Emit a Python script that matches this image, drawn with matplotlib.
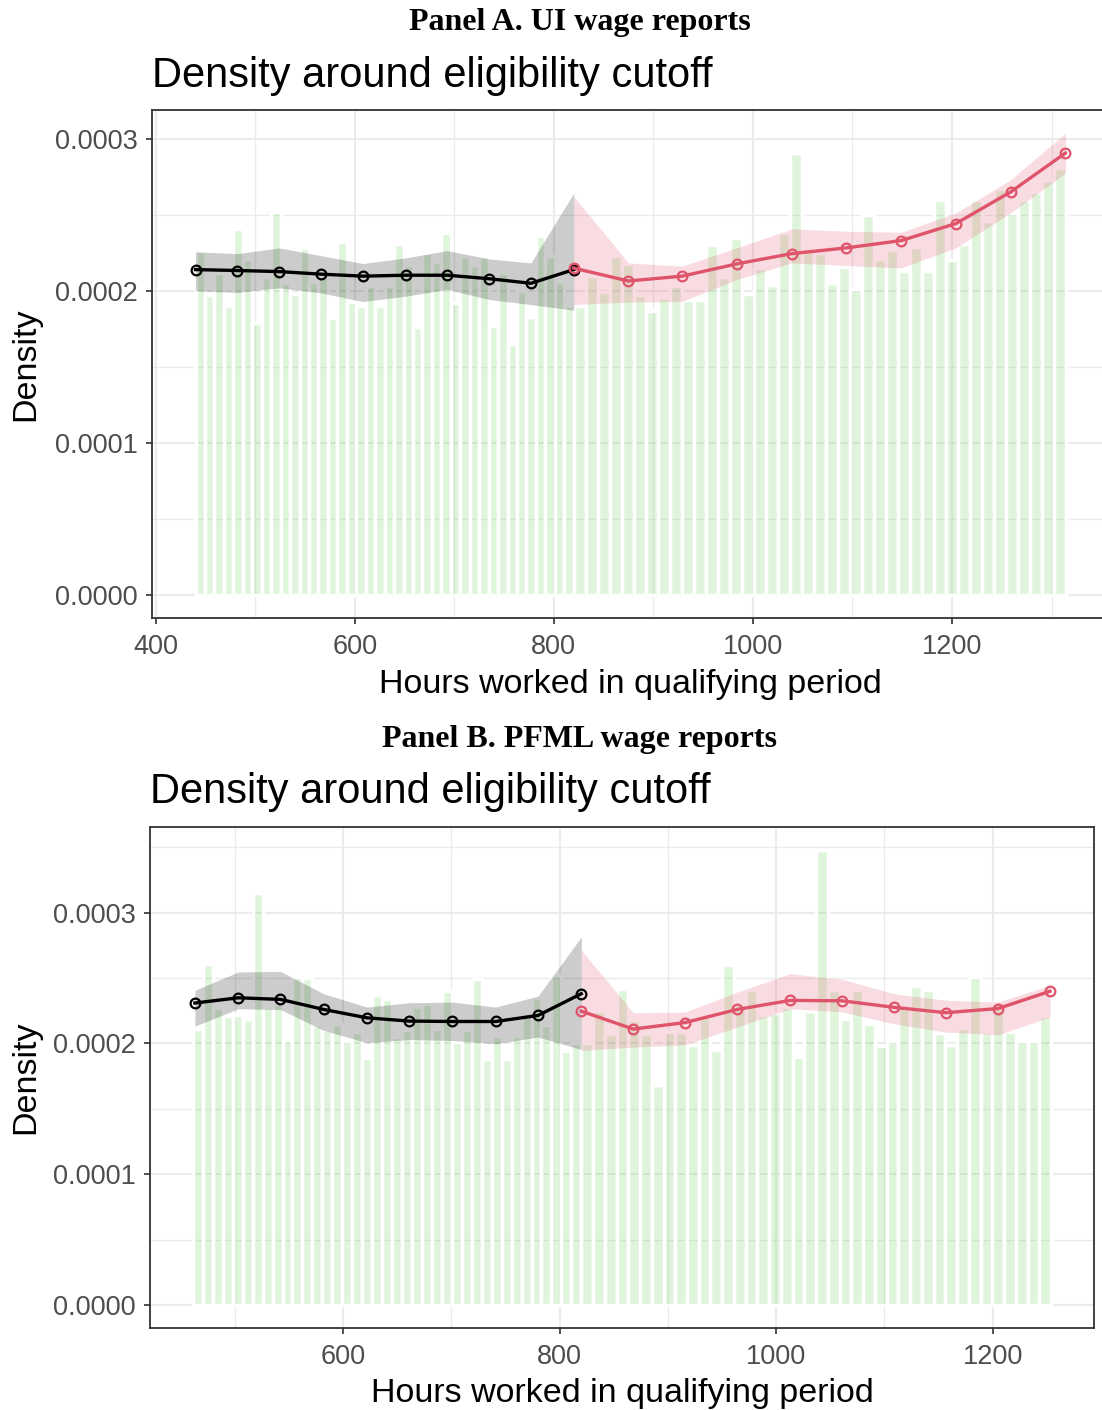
import numpy as np
import matplotlib
matplotlib.use("Agg")
import matplotlib.pyplot as plt
from matplotlib.ticker import FixedLocator, FuncFormatter

plt.rcParams['font.family'] = ['Liberation Sans', 'DejaVu Sans']

UNIT = 1e-4  # all densities below are in units of 1e-4

# ---------------- Panel A: UI wage reports ----------------
a_hist_left_start = 440.0
a_hist_left_width = 9.5
a_hist_left = [2.26, 1.97, 2.12, 1.90, 2.41, 2.21, 1.79, 2.09, 2.52, 2.05,
               1.98, 2.28, 2.06, 2.10, 1.82, 2.32, 1.93, 1.90, 2.03, 1.90,
               2.03, 2.31, 2.17, 1.76, 2.25, 2.19, 2.38, 1.92, 2.23, 2.17,
               2.23, 1.77, 2.12, 1.65, 2.00, 1.83, 2.36, 2.23, 2.06, 1.90]
a_hist_right_start = 820.0
a_hist_right_width = 12.05
a_hist_right = [1.90, 2.10, 1.99, 2.23, 2.18, 1.97, 1.87, 1.95, 2.03, 1.94,
                1.94, 2.30, 2.09, 2.35, 1.98, 2.15, 2.04, 2.38, 2.91, 2.28,
                2.25, 2.05, 2.16, 2.01, 2.50, 2.21, 2.27, 2.13, 2.29, 2.13,
                2.60, 2.20, 2.31, 2.60, 2.46, 2.67, 2.51, 2.60, 2.65, 2.73,
                2.81]

a_left_x = [440, 482, 524, 566, 608, 651, 693, 735, 777, 820]
a_left_y = [2.140, 2.134, 2.127, 2.110, 2.097, 2.103, 2.103, 2.080, 2.050, 2.140]
a_left_lo = [2.000, 1.990, 2.020, 1.987, 1.930, 1.965, 2.010, 1.943, 1.910, 1.873]
a_left_hi = [2.257, 2.245, 2.283, 2.232, 2.180, 2.217, 2.265, 2.210, 2.184, 2.644]

a_right_x = [820, 875, 929, 984, 1039, 1094, 1149, 1204, 1259, 1314]
a_right_y = [2.150, 2.065, 2.097, 2.178, 2.245, 2.283, 2.331, 2.443, 2.651, 2.907]
a_right_lo = [1.910, 1.926, 1.930, 2.075, 2.184, 2.167, 2.151, 2.283, 2.513, 2.775]
a_right_hi = [2.620, 2.184, 2.163, 2.283, 2.408, 2.392, 2.386, 2.513, 2.731, 3.038]

# ---------------- Panel B: PFML wage reports ----------------
b_hist_left_start = 461.2
b_hist_left_width = 9.2
b_hist_left = [2.11, 2.61, 2.27, 2.21, 2.22, 2.19, 3.15, 2.28, 2.30, 2.03,
               2.51, 2.50, 2.14, 2.10, 2.15, 2.02, 2.09, 1.89, 2.37, 2.34,
               2.05, 2.10, 2.28, 2.30, 2.11, 2.40, 2.01, 2.10, 2.49, 1.88,
               2.06, 1.88, 2.06, 2.23, 2.35, 2.14, 2.52, 1.94, 2.00]
b_hist_right_start = 820.0
b_hist_right_width = 10.85
b_hist_right = [2.00, 2.25, 2.07, 2.42, 2.18, 2.07, 1.68, 2.09, 2.09, 1.99,
                2.21, 1.95, 2.60, 2.30, 2.41, 2.22, 2.23, 2.28, 1.90, 2.25,
                3.48, 2.41, 2.19, 2.41, 2.15, 1.98, 2.02, 2.29, 2.44, 2.41,
                2.08, 1.99, 2.12, 2.51, 2.09, 2.31, 2.09, 2.02, 2.02, 2.21]

b_left_x = [463, 503, 542, 582, 622, 661, 701, 741, 780, 820]
b_left_y = [2.309, 2.349, 2.337, 2.260, 2.196, 2.171, 2.168, 2.168, 2.214, 2.380]
b_left_lo = [2.132, 2.265, 2.260, 2.100, 2.005, 2.030, 2.023, 1.997, 2.049, 1.954]
b_left_hi = [2.406, 2.546, 2.551, 2.380, 2.278, 2.311, 2.316, 2.278, 2.362, 2.814]

b_right_x = [820, 868, 916, 964, 1013, 1061, 1109, 1157, 1205, 1253]
b_right_y = [2.247, 2.110, 2.160, 2.260, 2.329, 2.326, 2.276, 2.235, 2.267, 2.399]
b_right_lo = [1.947, 1.972, 1.990, 2.125, 2.265, 2.242, 2.150, 2.087, 2.066, 2.202]
b_right_hi = [2.712, 2.235, 2.240, 2.393, 2.533, 2.490, 2.380, 2.330, 2.316, 2.444]

x_major = [400, 600, 800, 1000, 1200]
y_major = [0.0, 0.0001, 0.0002, 0.0003]

# ---------------- styling ----------------
HIST_FILL = (0x61 / 255, 0xD0 / 255, 0x4F / 255, 0.2)
RED = '#DF536B'
GRID = '#ebebeb'
TICK_TXT = '#4d4d4d'
BORDER = '#333333'

W, H = 1102, 1410
fig = plt.figure(figsize=(W / 100, H / 100), dpi=100)


def px_box(left, top, right, bottom):
    return [left / W, 1 - bottom / H, (right - left) / W, (bottom - top) / H]


def draw_panel(ax, hl_start, hl_w, hl, hr_start, hr_w, hr,
               lx, ly, llo, lhi, rx, ry, rlo, rhi):
    hl = np.asarray(hl) * UNIT
    hr = np.asarray(hr) * UNIT
    l_edges = hl_start + hl_w * np.arange(len(hl))
    r_edges = hr_start + hr_w * np.arange(len(hr))

    ax.bar(l_edges, hl, width=hl_w, align='edge', color=HIST_FILL,
           edgecolor='white', linewidth=2.5, zorder=2)
    ax.bar(r_edges, hr, width=hr_w, align='edge', color=HIST_FILL,
           edgecolor='white', linewidth=2.5, zorder=2)

    s = lambda v: np.asarray(v) * UNIT
    ax.fill_between(lx, s(llo), s(lhi), color=(0, 0, 0, 0.2), lw=0, zorder=3)
    ax.fill_between(rx, s(rlo), s(rhi), color=RED, alpha=0.2, lw=0, zorder=3)
    ax.plot(lx, s(ly), color='black', lw=2.4, marker='o', mfc='none',
            ms=7.0, mew=1.6, zorder=4)
    ax.plot(rx, s(ry), color=RED, lw=2.4, marker='o', mfc='none',
            ms=7.0, mew=1.6, zorder=5)

    # ggplot-style 5% expansion of the data range
    xs = np.concatenate([l_edges, r_edges + hr_w, lx, rx])
    x0, x1 = xs.min(), xs.max()
    dx = 0.05 * (x1 - x0)
    ax.set_xlim(x0 - dx, x1 + dx)
    ys = np.concatenate([hl, hr, s(lhi), s(rhi), [0.0]])
    y1 = ys.max()
    ax.set_ylim(-0.05 * y1, 1.05 * y1)

    ax.xaxis.set_major_locator(FixedLocator(x_major))
    ax.xaxis.set_minor_locator(FixedLocator([v + 100 for v in x_major]))
    ax.yaxis.set_major_locator(FixedLocator(y_major))
    ax.yaxis.set_minor_locator(FixedLocator([v + 0.00005 for v in y_major]))
    ax.yaxis.set_major_formatter(FuncFormatter(lambda v, p: f"{v:.4f}"))
    ax.xaxis.set_major_formatter(FuncFormatter(lambda v, p: f"{v:.0f}"))

    ax.set_axisbelow(True)
    ax.grid(which='major', color=GRID, lw=1.5, zorder=0)
    ax.grid(which='minor', color=GRID, lw=1.0, zorder=0)
    ax.tick_params(which='minor', length=0)
    ax.tick_params(which='major', direction='out', length=4.3, width=1.2,
                   color=BORDER, labelsize=19.5, labelcolor=TICK_TXT)
    ax.tick_params(axis='x', pad=7)
    ax.tick_params(axis='y', pad=6)
    for sp in ax.spines.values():
        sp.set_color(BORDER)
        sp.set_linewidth(1.3)


def panel_texts(header, header_base, title_left, title_base, ax_box, xlabel_base):
    left, top, right, bottom = ax_box
    fig.text(580 / W, 1 - header_base / H, header, ha='center', va='baseline',
             family=['Liberation Serif', 'DejaVu Serif'], weight='bold', size=23)
    fig.text(title_left / W, 1 - title_base / H, "Density around eligibility cutoff",
             ha='left', va='baseline', size=30, color='black')
    fig.text((left + right) / 2 / W, 1 - xlabel_base / H,
             "Hours worked in qualifying period", ha='center', va='baseline',
             size=24.5, color='black')
    fig.text(26 / W, 1 - (top + bottom) / 2 / H, "Density", rotation=90,
             ha='center', va='center', size=24.5, color='black')


boxA = (152, 110, 1109, 618)
boxB = (150, 827, 1094, 1328)

axA = fig.add_axes(px_box(*boxA))
draw_panel(axA, a_hist_left_start, a_hist_left_width, a_hist_left,
           a_hist_right_start, a_hist_right_width, a_hist_right,
           a_left_x, a_left_y, a_left_lo, a_left_hi,
           a_right_x, a_right_y, a_right_lo, a_right_hi)
panel_texts("Panel A. UI wage reports", 30, 152, 87, boxA, 693)

axB = fig.add_axes(px_box(*boxB))
draw_panel(axB, b_hist_left_start, b_hist_left_width, b_hist_left,
           b_hist_right_start, b_hist_right_width, b_hist_right,
           b_left_x, b_left_y, b_left_lo, b_left_hi,
           b_right_x, b_right_y, b_right_lo, b_right_hi)
panel_texts("Panel B. PFML wage reports", 747, 150, 803, boxB, 1402)

fig.savefig("out.png", dpi=100)
